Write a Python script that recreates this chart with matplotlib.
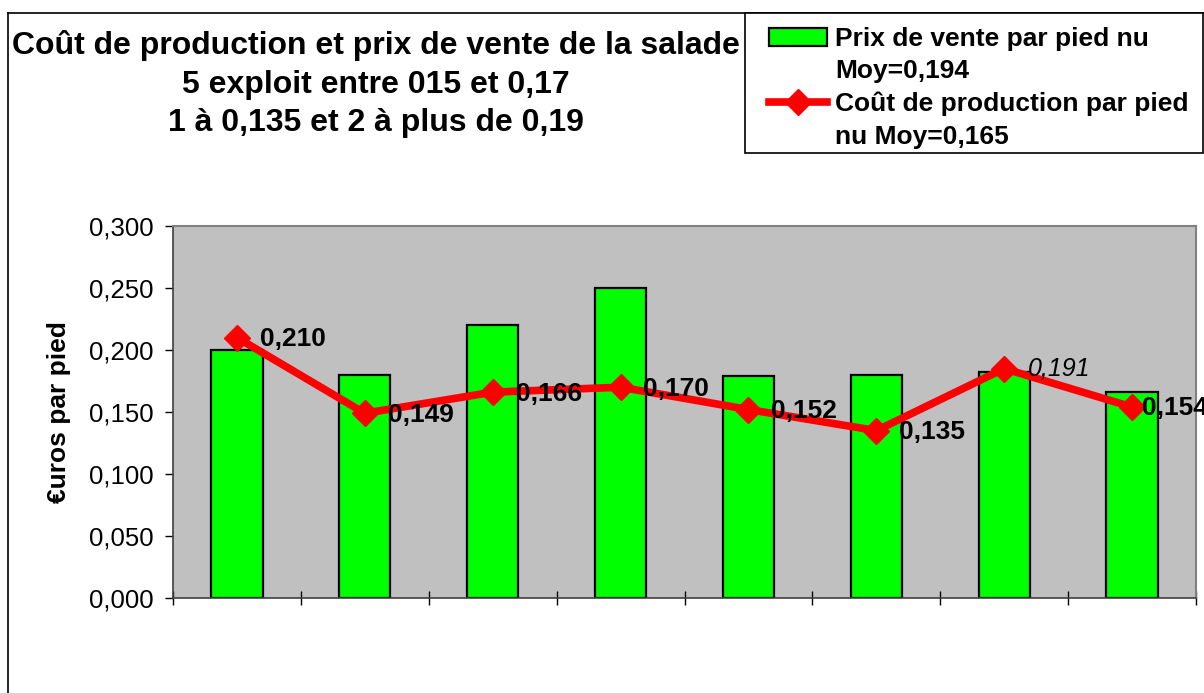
import numpy as np
import matplotlib
matplotlib.use("Agg")
from matplotlib import pyplot as plt
from matplotlib.lines import Line2D
from matplotlib.patches import Patch, Rectangle

plt.rcParams['font.family'] = ['Liberation Sans', 'DejaVu Sans']

# data
exploitations = list(range(1, 9))
prix_vente = [0.200, 0.180, 0.220, 0.250, 0.179, 0.180, 0.182, 0.166]
cout_production = [0.210, 0.149, 0.166, 0.170, 0.152, 0.135, 0.185, 0.154]
cout_labels = ['0,210', '0,149', '0,166', '0,170', '0,152', '0,135', '0,191', '0,154']
y_ticks = [0.0, 0.05, 0.10, 0.15, 0.20, 0.25, 0.30]
y_tick_labels = ['0,000', '0,050', '0,100', '0,150', '0,200', '0,250', '0,300']

title = ("Coût de production et prix de vente de la salade\n"
         "5 exploit entre 015 et 0,17\n"
         "1 à 0,135 et 2 à plus de 0,19")

W, H = 1204, 693
fig = plt.figure(figsize=(W / 100, H / 100), dpi=100)
fig.patch.set_facecolor('white')

# outer chart frame (only left and top edges are visible)
fig.add_artist(Line2D([8 / W, 8 / W], [0, 1 - 13 / H], color='black', lw=1.2))
fig.add_artist(Line2D([8 / W, 1], [1 - 13 / H, 1 - 13 / H], color='black', lw=1.2))

ax = fig.add_axes([173 / W, 1 - 598 / H, (1196 - 173) / W, (598 - 226) / H])
ax.set_facecolor('#C0C0C0')

x = np.arange(len(exploitations))
bars = ax.bar(x, prix_vente, width=0.4, color='#00FF00', edgecolor='black', linewidth=1.6,
              zorder=2)
line, = ax.plot(x, cout_production, color='#FF0000', lw=5.5, marker='D', markersize=13,
                markeredgecolor='#FF0000', zorder=3, clip_on=False)

for i, (v, lab) in enumerate(zip(cout_production, cout_labels)):
    if i == 6:
        ax.annotate(lab, (x[i], v), xytext=(17, 0), textcoords='offset points',
                    ha='left', va='center', fontsize=18, style='italic', zorder=4)
    else:
        dx = 7 if i == len(x) - 1 else 16.5
        ax.annotate(lab, (x[i], v), xytext=(dx, -1), textcoords='offset points',
                    ha='left', va='center', fontsize=19, fontweight='bold', zorder=4,
                    annotation_clip=False)

ax.set_xlim(-0.5, len(x) - 0.5)
ax.set_ylim(0, 0.3)
ax.set_yticks(y_ticks)
ax.set_yticklabels(y_tick_labels, fontsize=18.5)
ax.set_xticks(np.arange(len(x) + 1) - 0.5)
ax.set_xticklabels([])
ax.tick_params(axis='x', direction='inout', length=10, width=1, color='black')
ax.tick_params(axis='y', direction='out', length=6, width=1, color='black', pad=8)

for side in ['top', 'right']:
    ax.spines[side].set_color('#808080')
    ax.spines[side].set_linewidth(1.5)
for side in ['left', 'bottom']:
    ax.spines[side].set_color('#404040')
    ax.spines[side].set_linewidth(1.2)

ax.set_ylabel('€uros par pied', fontsize=19, fontweight='bold')
ax.yaxis.set_label_coords(-0.1, 0.5)

fig.text(376 / W, 1 - 84 / H, title, ha='center', va='center', multialignment='center',
         fontsize=23, fontweight='bold', linespacing=1.35)

# legend box
fig.add_artist(Rectangle((745 / W, 1 - 153 / H), 458 / W, 140 / H, transform=fig.transFigure,
                         facecolor='white', edgecolor='black', linewidth=1.2, zorder=4))
blank = Patch(facecolor='none', edgecolor='none')
handles = [Patch(facecolor='#00FF00', edgecolor='black', linewidth=1.6), blank, line, blank]
labels = ['Prix de vente par pied nu', 'Moy=0,194', 'Coût de production par pied', 'nu Moy=0,165']
leg = fig.legend(handles, labels, loc='upper left', bbox_to_anchor=(769 / W, 1 - 27 / H),
                 frameon=False, prop={'size': 19, 'weight': 'bold'}, labelspacing=0.32,
                 handlelength=2.2, handleheight=0.7, handletextpad=0.3, borderpad=0,
                 borderaxespad=0)
leg.set_zorder(5)

fig.savefig('out.png', dpi=100)
